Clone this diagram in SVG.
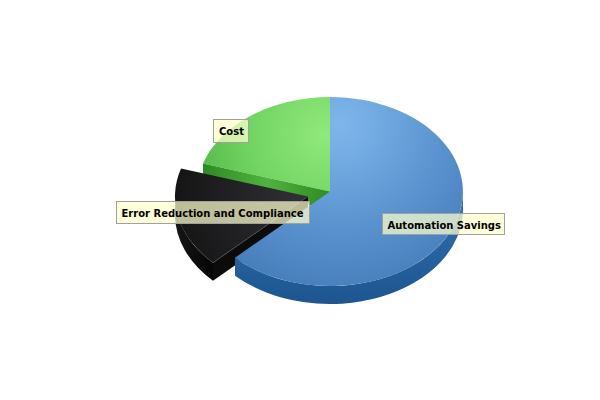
<svg xmlns="http://www.w3.org/2000/svg" width="600" height="400" viewBox="0 0 600 400">
<defs>
<radialGradient id="gBlue" gradientUnits="userSpaceOnUse" cx="340" cy="125" r="230">
<stop offset="0" stop-color="#7fb7ec"/>
<stop offset="0.45" stop-color="#5a92cf"/>
<stop offset="1" stop-color="#356ca8"/>
</radialGradient>
<linearGradient id="gBlueSide" gradientUnits="userSpaceOnUse" x1="0" y1="200" x2="0" y2="305">
<stop offset="0" stop-color="#3370ad"/>
<stop offset="1" stop-color="#1c5590"/>
</linearGradient>
<radialGradient id="gGreen" gradientUnits="userSpaceOnUse" cx="325" cy="135" r="150">
<stop offset="0" stop-color="#90e97b"/>
<stop offset="0.5" stop-color="#72d462"/>
<stop offset="1" stop-color="#4eb042"/>
</radialGradient>
<linearGradient id="gGreenSide" gradientUnits="userSpaceOnUse" x1="203" y1="170" x2="330" y2="200">
<stop offset="0" stop-color="#2e8a22"/>
<stop offset="0.5" stop-color="#4fb33f"/>
<stop offset="1" stop-color="#2f8a22"/>
</linearGradient>
<radialGradient id="gBlack" gradientUnits="userSpaceOnUse" cx="300" cy="200" r="140">
<stop offset="0" stop-color="#302f35"/>
<stop offset="0.6" stop-color="#1e1e20"/>
<stop offset="1" stop-color="#121212"/>
</radialGradient>
<linearGradient id="gBlackSide" gradientUnits="userSpaceOnUse" x1="175" y1="0" x2="213" y2="0">
<stop offset="0" stop-color="#161616"/>
<stop offset="1" stop-color="#050505"/>
</linearGradient>
<style>
.lbl rect{fill:#ffffcc;fill-opacity:0.72;stroke:#a0a0a0;stroke-width:1}
.lbl text{font-family:"DejaVu Sans","Liberation Sans",sans-serif;font-weight:bold;font-size:10px;fill:#000}
</style>
</defs>
<rect width="600" height="400" fill="#ffffff"/>
<g id="slice-cost">
<path d="M330,191.5 L203,163.4 A133,94.5 0 0,1 330,97 Z" fill="url(#gGreen)"/>
<path d="M330,191.5 L203,163.4 L203,181.4 L330,209.5 Z" fill="url(#gGreenSide)"/>
</g>
<g id="slice-error">
<path d="M213,262.7 A133,94.5 0 0,1 175,196.5 L175,214.5 A133,94.5 0 0,0 213,280.7 Z" fill="url(#gBlackSide)"/>
<path d="M308,196.5 L213,262.7 L213,280.7 L308,214.5 Z" fill="#0b0b0b"/>
<path d="M308,196.5 L213,262.7 A133,94.5 0 0,1 181,168.4 Z" fill="url(#gBlack)"/>
<path d="M308,196.5 L213,262.7" stroke="#4a4a4e" stroke-width="1" fill="none"/>
</g>
<g id="slice-automation">
<path d="M463,191.5 A133,94.5 0 0,1 235,257.7 L235,275.7 A133,94.5 0 0,0 463,209.5 Z" fill="url(#gBlueSide)"/>
<path d="M330,191.5 L330,97 A133,94.5 0 1,1 235,257.7 Z" fill="url(#gBlue)"/>
</g>
<g id="labels">
<g id="label-cost" class="lbl">
<rect x="213.5" y="119.5" width="35" height="23"/>
<text x="219" y="135">Cost</text>
</g>
<g id="label-error" class="lbl">
<rect x="116.5" y="201.5" width="193" height="22"/>
<text x="121.5" y="216.5">Error Reduction and Compliance</text>
</g>
<g id="label-automation" class="lbl">
<rect x="382.5" y="213.5" width="122" height="21"/>
<text x="387.5" y="228.5">Automation Savings</text>
</g>
</g>
</svg>
